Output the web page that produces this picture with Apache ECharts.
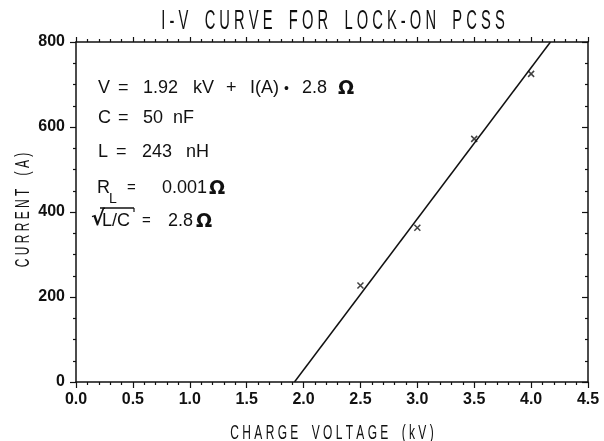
<!DOCTYPE html>
<html>
<head>
<meta charset="utf-8">
<script src="https://cdn.jsdelivr.net/npm/echarts@6/dist/echarts.min.js"></script>
<style>
  html, body { margin: 0; padding: 0; background: #fff; }
  #chart { width: 604px; height: 441px; }
</style>
</head>
<body>
<div id="chart"></div>
<script>
// measured points (kV, A)
const voltage = [2.5, 3.0, 3.5, 4.0]
const current = [227, 363, 572, 725]
// fit line V = 1.92 kV + I * 2.8 ohm, end points
const fitVoltage = [1.92, 4.17]
const fitCurrent = [0, 800]
const xTicks = ['0.0', '0.5', '1.0', '1.5', '2.0', '2.5', '3.0', '3.5', '4.0', '4.5']

const FONT = '"Liberation Sans", Arial, sans-serif'
const INK = '#111'

const chart = echarts.init(document.getElementById('chart'), null, { renderer: 'canvas' })

// plotter-style lettering: narrow glyphs with a gap between letters
const spread = (s, wordGap) => s.split(' ').map(w => w.split('').join(' ')).join(' '.repeat(wordGap))

const plotText = (text, x, y, size, sx, extra) => Object.assign({
  type: 'text', x: x, y: y, scaleX: sx,
  style: { text: text, fontFamily: FONT, fontSize: size, fill: INK, textAlign: 'center', textVerticalAlign: 'middle' },
}, extra || {})

// annotation token: left-aligned at x, vertically centred on y
const tok = (text, x, y, size, bold) => ({
  type: 'text', x: x, y: y,
  style: {
    text: text, fontFamily: bold ? '"DejaVu Sans", sans-serif' : FONT,
    fontWeight: bold ? 'bold' : 'normal', fontSize: size, fill: INK,
    textAlign: 'left', textVerticalAlign: 'middle',
  },
})

const crossSymbol = 'path://M0,0 L10,10 M10,0 L0,10'

const axisBase = {
  type: 'value',
  axisLine: { show: true, onZero: false, lineStyle: { color: INK, width: 1.5 } },
  splitLine: { show: false },
  minorSplitLine: { show: false },
}
const tickStyle = { color: INK, width: 1.2 }

const option = {
  backgroundColor: '#fff',
  animation: false,
  grid: { left: 76, right: 16, top: 42, bottom: 59 },
  xAxis: [
    Object.assign({}, axisBase, {
      position: 'bottom',
      min: 0, max: 4.5, interval: 0.5,
      axisTick: { show: true, inside: false, length: 6, lineStyle: tickStyle },
      minorTick: { show: true, splitNumber: 5, length: 3, lineStyle: tickStyle },
      axisLabel: {
        margin: 10,
        fontFamily: FONT, fontSize: 16, fontWeight: 'bold', color: INK,
        formatter: v => xTicks[Math.round(v / 0.5)],
      },
    }),
    Object.assign({}, axisBase, {
      position: 'top',
      min: 0, max: 4.5, interval: 0.5,
      axisTick: { show: true, inside: false, length: 5, lineStyle: tickStyle },
      minorTick: { show: true, splitNumber: 5, length: 3, lineStyle: tickStyle },
      axisLabel: { show: false },
    }),
  ],
  yAxis: [
    Object.assign({}, axisBase, {
      position: 'left',
      min: 0, max: 800, interval: 200,
      axisTick: { show: true, inside: false, length: 6, lineStyle: tickStyle },
      minorTick: { show: true, splitNumber: 4, length: 3, lineStyle: tickStyle },
      axisLabel: { margin: 11, fontFamily: FONT, fontSize: 16, fontWeight: 'bold', color: INK },
    }),
    Object.assign({}, axisBase, {
      position: 'right',
      min: 0, max: 800, interval: 200,
      axisTick: { show: true, inside: true, length: 6, lineStyle: tickStyle },
      minorTick: { show: true, splitNumber: 4, length: 3, lineStyle: tickStyle },
      axisLabel: { show: false },
    }),
  ],
  series: [
    {
      type: 'line',
      xAxisIndex: 0, yAxisIndex: 0,
      data: fitVoltage.map((v, i) => [v, fitCurrent[i]]),
      showSymbol: false,
      lineStyle: { color: INK, width: 1.5 },
      silent: true,
    },
    {
      type: 'scatter',
      xAxisIndex: 0, yAxisIndex: 0,
      data: voltage.map((v, i) => [v, current[i]]),
      symbol: crossSymbol,
      symbolSize: 6,
      itemStyle: { color: 'none', borderColor: INK, borderWidth: 1.5 },
    },
  ],
  graphic: [
    // title and axis names
    plotText(spread('I-V CURVE FOR LOCK-ON PCSS', 4), 333, 22, 27, 0.545),
    plotText(spread('CHARGE VOLTAGE (kV)', 4), 332, 433, 20, 0.6),
    plotText(spread('CURRENT (A)', 4), 23, 210, 21, 0.57, { rotation: Math.PI / 2 }),

    // V = 1.92 kV + I(A) * 2.8 ohm
    tok('V', 98, 88, 18), tok('=', 118, 88, 18), tok('1.92', 143, 88, 18),
    tok('kV', 193, 88, 18), tok('+', 226, 88, 18), tok('I(A)', 250, 88, 18),
    tok('•', 284, 89, 14), tok('2.8', 302, 88, 18), tok('Ω', 338, 89, 19, true),
    // C = 50 nF
    tok('C', 98, 118, 18), tok('=', 118, 118, 18), tok('50', 143, 118, 18), tok('nF', 173, 118, 18),
    // L = 243 nH
    tok('L', 98, 152, 18), tok('=', 116, 152, 18), tok('243', 142, 152, 18), tok('nH', 186, 152, 18),
    // R_L = 0.001 ohm
    tok('R', 97, 188, 18), tok('L', 109, 199, 14), tok('=', 127, 188, 15),
    tok('0.001', 162, 188, 18), tok('Ω', 209, 189, 19, true),
    // sqrt(L/C) = 2.8 ohm
    tok('√', 91, 220, 21, true),
    { type: 'line', shape: { x1: 100, y1: 208, x2: 134, y2: 208 }, style: { stroke: INK, lineWidth: 1.3 } },
    { type: 'line', shape: { x1: 134, y1: 208, x2: 134, y2: 212 }, style: { stroke: INK, lineWidth: 1.2 } },
    tok('L/C', 102, 221, 18), tok('=', 142, 221, 15),
    tok('2.8', 168, 221, 18), tok('Ω', 196, 222, 19, true),
  ],
}

chart.setOption(option)
</script>
</body>
</html>
